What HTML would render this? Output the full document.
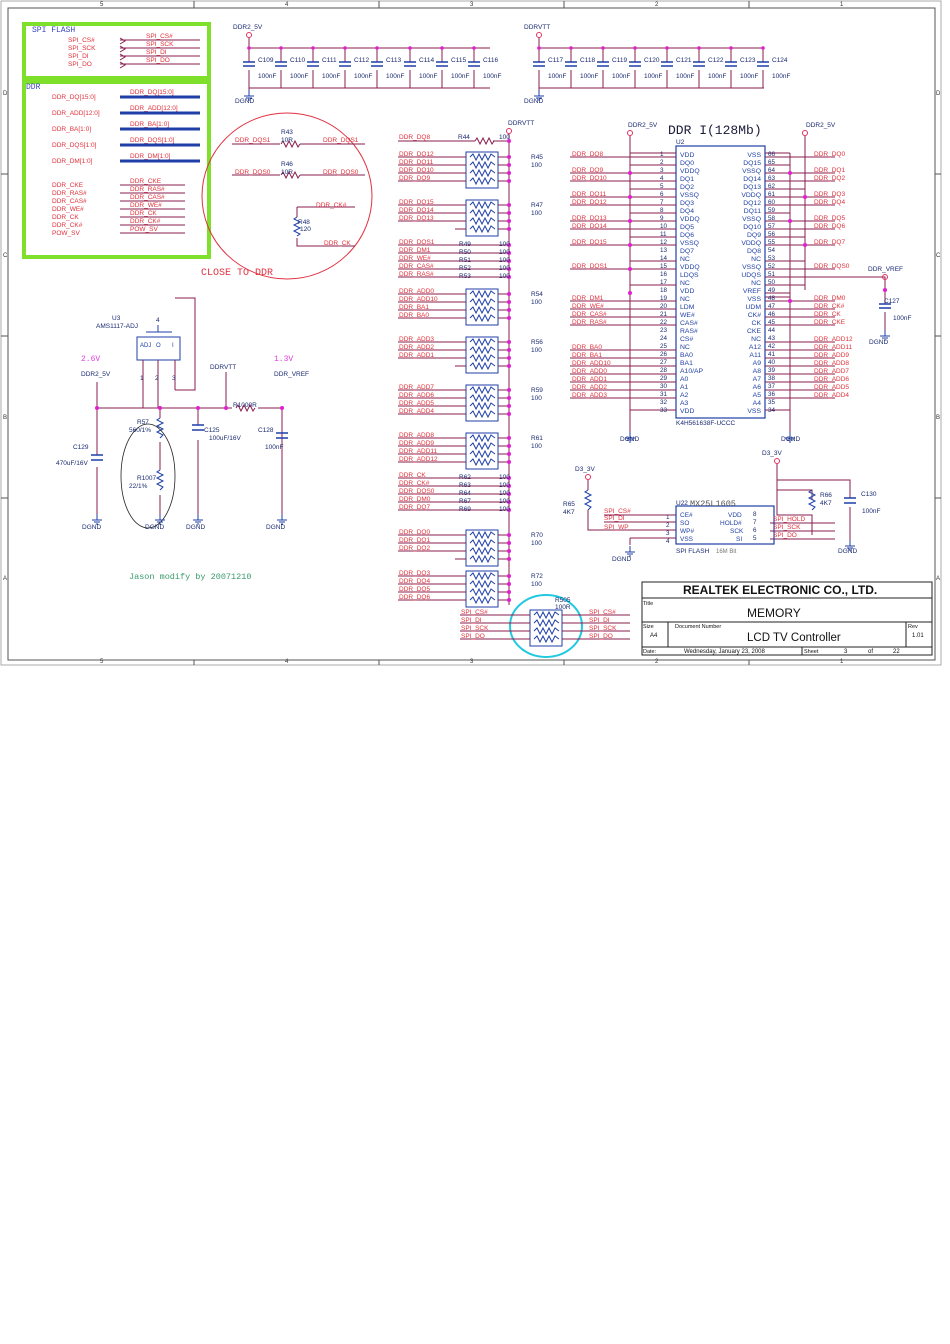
<!DOCTYPE html>
<html><head><meta charset="utf-8"><style>
html,body{margin:0;padding:0;background:#fff}
svg{display:block;font-family:"Liberation Sans",sans-serif}
.w{stroke:#8a1c4c;stroke-width:1;fill:none}
.b{stroke:#1f3fa8;stroke-width:1;fill:none}
.l{fill:#e0303a;font-size:6.5px}
.n{fill:#1a2a70;font-size:6.5px}
.m{fill:#e020d0}
.g{stroke:#7ee02a;stroke-width:4;fill:none}
.mono{font-family:"Liberation Mono",monospace}
</style></head><body>
<svg width="950" height="1344" viewBox="0 0 950 1344" xmlns="http://www.w3.org/2000/svg">
<defs>
<g id="pk"><rect x="0" y="0" width="32" height="36" class="b"/><path class="b" d="M4 5l3-3 3 6 3-6 3 6 3-6 3 6 3-6 4 3M4 13l3-3 3 6 3-6 3 6 3-6 3 6 3-6 4 3M4 21l3-3 3 6 3-6 3 6 3-6 3 6 3-6 4 3M4 29l3-3 3 6 3-6 3 6 3-6 3 6 3-6 4 3"/></g>
<g id="cap"><path class="w" d="M0 0V14M0 22V40"/><path d="M-6 14H6M-6 18H6" stroke="#1f3fa8" stroke-width="1.5"/><circle cx="0" cy="0" r="1.8" class="m"/></g>
<g id="gnd"><path d="M-5 0H5M-3 2H3M-1 4H1M0 0V-6" stroke="#1f3fa8" stroke-width="1"/></g>
<path id="zz" d="M0 0l2-3 3 6 3-6 3 6 3-6 3 6 2-3" class="w"/>
</defs>
<rect x="8" y="8" width="927" height="652" fill="none" stroke="#555" stroke-width="1"/>
<rect x="1" y="1" width="940" height="664" fill="none" stroke="#888" stroke-width="0.7"/>
<g fill="#333" font-size="6"><text x="100" y="6">5</text><text x="285" y="6">4</text><text x="470" y="6">3</text><text x="655" y="6">2</text><text x="840" y="6">1</text>
<text x="100" y="663">5</text><text x="285" y="663">4</text><text x="470" y="663">3</text><text x="655" y="663">2</text><text x="840" y="663">1</text>
<text x="3" y="95">D</text><text x="3" y="257">C</text><text x="3" y="419">B</text><text x="3" y="580">A</text>
<text x="936" y="95">D</text><text x="936" y="257">C</text><text x="936" y="419">B</text><text x="936" y="580">A</text></g>
<path d="M194 1V8M379 1V8M564 1V8M749 1V8M194 660V665M379 660V665M564 660V665M749 660V665M1 174H8M1 336H8M1 498H8M935 174H941M935 336H941M935 498H941" stroke="#555"/>

<rect x="24" y="24" width="185" height="54" class="g"/>
<rect x="24" y="82" width="185" height="175" class="g"/>
<text x="32" y="32" class="mono" font-size="8" fill="#3a4ac0">SPI FLASH</text>
<text x="26" y="89" class="mono" font-size="8" fill="#3a4ac0">DDR</text>
<g class="l"><text x="68" y="42">SPI_CS#</text><text x="68" y="50">SPI_SCK</text><text x="68" y="58">SPI_DI</text><text x="68" y="66">SPI_DO</text>
<text x="146" y="38">SPI_CS#</text><text x="146" y="46">SPI_SCK</text><text x="146" y="54">SPI_DI</text><text x="146" y="62">SPI_DO</text></g>
<path class="w" d="M120 40H200M120 48H200M120 56H200M120 64H200M120 38l5 3-5 3M120 46l5 3-5 3M120 54l5 3-5 3M120 62l5 3-5 3"/>
<g class="l"><text x="52" y="99">DDR_DQ[15:0]</text><text x="52" y="115">DDR_ADD[12:0]</text><text x="52" y="131">DDR_BA[1:0]</text><text x="52" y="147">DDR_DQS[1:0]</text><text x="52" y="163">DDR_DM[1:0]</text>
<text x="130" y="94">DDR_DQ[15:0]</text><text x="130" y="110">DDR_ADD[12:0]</text><text x="130" y="126">DDR_BA[1:0]</text><text x="130" y="142">DDR_DQS[1:0]</text><text x="130" y="158">DDR_DM[1:0]</text></g>
<path d="M120 97H200M120 113H200M120 129H200M120 145H200M120 161H200" stroke="#1f3fa8" stroke-width="3"/>
<g class="l"><text x="52" y="187">DDR_CKE</text><text x="52" y="195">DDR_RAS#</text><text x="52" y="203">DDR_CAS#</text><text x="52" y="211">DDR_WE#</text><text x="52" y="219">DDR_CK</text><text x="52" y="227">DDR_CK#</text><text x="52" y="235">POW_SV</text>
<text x="130" y="183">DDR_CKE</text><text x="130" y="191">DDR_RAS#</text><text x="130" y="199">DDR_CAS#</text><text x="130" y="207">DDR_WE#</text><text x="130" y="215">DDR_CK</text><text x="130" y="223">DDR_CK#</text><text x="130" y="231">POW_SV</text></g>
<path class="w" d="M120 185H185M120 193H185M120 201H185M120 209H185M120 217H185M120 225H185M120 233H185"/>

<text x="233" y="29" class="n">DDR2_5V</text><circle cx="249" cy="35" r="2.5" fill="none" stroke="#e03060"/>
<path class="w" d="M249 38V48H490M249 88H490V88M249 88V96"/>
<use href="#cap" x="249" y="48"/><use href="#cap" x="281" y="48"/><use href="#cap" x="313" y="48"/><use href="#cap" x="345" y="48"/><use href="#cap" x="377" y="48"/><use href="#cap" x="410" y="48"/><use href="#cap" x="442" y="48"/><use href="#cap" x="474" y="48"/>
<use href="#gnd" x="249" y="96"/><text x="235" y="103" class="n">DGND</text>
<g class="n"><text x="258" y="62">C109</text><text x="290" y="62">C110</text><text x="322" y="62">C111</text><text x="354" y="62">C112</text><text x="386" y="62">C113</text><text x="419" y="62">C114</text><text x="451" y="62">C115</text><text x="483" y="62">C116</text>
<text x="258" y="78">100nF</text><text x="290" y="78">100nF</text><text x="322" y="78">100nF</text><text x="354" y="78">100nF</text><text x="386" y="78">100nF</text><text x="419" y="78">100nF</text><text x="451" y="78">100nF</text><text x="483" y="78">100nF</text></g>
<text x="524" y="29" class="n">DDRVTT</text><circle cx="539" cy="35" r="2.5" fill="none" stroke="#e03060"/>
<path class="w" d="M539 38V48H764M539 88H764M539 88V96"/>
<use href="#cap" x="539" y="48"/><use href="#cap" x="571" y="48"/><use href="#cap" x="603" y="48"/><use href="#cap" x="635" y="48"/><use href="#cap" x="667" y="48"/><use href="#cap" x="699" y="48"/><use href="#cap" x="731" y="48"/><use href="#cap" x="763" y="48"/>
<use href="#gnd" x="539" y="96"/><text x="524" y="103" class="n">DGND</text>
<g class="n"><text x="548" y="62">C117</text><text x="580" y="62">C118</text><text x="612" y="62">C119</text><text x="644" y="62">C120</text><text x="676" y="62">C121</text><text x="708" y="62">C122</text><text x="740" y="62">C123</text><text x="772" y="62">C124</text>
<text x="548" y="78">100nF</text><text x="580" y="78">100nF</text><text x="612" y="78">100nF</text><text x="644" y="78">100nF</text><text x="676" y="78">100nF</text><text x="708" y="78">100nF</text><text x="740" y="78">100nF</text><text x="772" y="78">100nF</text></g>

<ellipse cx="287" cy="196" rx="85" ry="83" fill="none" stroke="#e03040" stroke-width="1"/>
<text x="201" y="275" class="mono" font-size="10" fill="#e03040">CLOSE TO DDR</text>
<path class="w" d="M232 144H280M300 144H365M232 175H280M300 175H365M297 207H355M297 207V217M297 238V246H355"/>
<use href="#zz" x="281" y="144"/><use href="#zz" x="281" y="175"/>
<path class="b" d="M297 217l-3 2 6 3-6 3 6 3-6 3 6 3-3 2"/>
<g class="l"><text x="235" y="142">DDR_DQS1</text><text x="323" y="142">DDR_DQS1</text><text x="235" y="174">DDR_DQS0</text><text x="323" y="174">DDR_DQS0</text><text x="316" y="207">DDR_CK#</text><text x="324" y="245">DDR_CK</text></g>
<g class="n"><text x="281" y="134">R43</text><text x="281" y="142">10R</text><text x="281" y="166">R46</text><text x="281" y="174">10R</text><text x="298" y="224">R48</text><text x="300" y="231">120</text></g>

<text x="508" y="125" class="n">DDRVTT</text><circle cx="509" cy="131" r="2.5" fill="none" stroke="#e03060"/>
<path class="w" d="M509 134V605"/>
<path class="w" d="M398 141H475M493 141H509"/><use href="#zz" x="475" y="141"/>
<text x="458" y="139" class="n">R44</text><text x="499" y="139" class="n">100</text><text x="399" y="139" class="l">DDR_DQ8</text>
<g>
<use href="#pk" x="466" y="152"/><use href="#pk" x="466" y="200"/><use href="#pk" x="466" y="289"/><use href="#pk" x="466" y="337"/><use href="#pk" x="466" y="385"/><use href="#pk" x="466" y="433"/><use href="#pk" x="466" y="530"/><use href="#pk" x="466" y="571"/>
</g>
<path class="w" d="M398 157H466M398 165H466M398 173H466M398 181H466M498 157H509M498 165H509M498 173H509M498 181H509
M398 205H466M398 213H466M398 221H466M455 229H466M498 205H509M498 213H509M498 221H509M498 229H509
M398 294H466M398 302H466M398 310H466M398 318H466M498 294H509M498 302H509M498 310H509M498 318H509
M398 342H466M398 350H466M398 358H466M455 366H466M498 342H509M498 350H509M498 358H509M498 366H509
M398 390H466M398 398H466M398 406H466M398 414H466M498 390H509M498 398H509M498 406H509M498 414H509
M398 438H466M398 446H466M398 454H466M398 462H466M498 438H509M498 446H509M498 454H509M498 462H509
M398 535H466M398 543H466M398 551H466M455 559H466M498 535H509M498 543H509M498 551H509M498 559H509
M398 576H466M398 584H466M398 592H466M398 600H466M498 576H509M498 584H509M498 592H509M498 600H509
M398 253H509M398 261H509M398 269H509M398 277H509M398 245H509
M398 478H509M398 486H509M398 494H509M398 502H509M398 510H509"/>
<g class="m">
<circle cx="509" cy="141" r="2"/><circle cx="509" cy="157" r="2"/><circle cx="509" cy="165" r="2"/><circle cx="509" cy="173" r="2"/><circle cx="509" cy="181" r="2"/><circle cx="509" cy="205" r="2"/><circle cx="509" cy="213" r="2"/><circle cx="509" cy="221" r="2"/><circle cx="509" cy="229" r="2"/>
<circle cx="509" cy="245" r="2"/><circle cx="509" cy="253" r="2"/><circle cx="509" cy="261" r="2"/><circle cx="509" cy="269" r="2"/><circle cx="509" cy="277" r="2"/>
<circle cx="509" cy="294" r="2"/><circle cx="509" cy="302" r="2"/><circle cx="509" cy="310" r="2"/><circle cx="509" cy="318" r="2"/><circle cx="509" cy="342" r="2"/><circle cx="509" cy="350" r="2"/><circle cx="509" cy="358" r="2"/><circle cx="509" cy="366" r="2"/>
<circle cx="509" cy="390" r="2"/><circle cx="509" cy="398" r="2"/><circle cx="509" cy="406" r="2"/><circle cx="509" cy="414" r="2"/><circle cx="509" cy="438" r="2"/><circle cx="509" cy="446" r="2"/><circle cx="509" cy="454" r="2"/><circle cx="509" cy="462" r="2"/>
<circle cx="509" cy="478" r="2"/><circle cx="509" cy="486" r="2"/><circle cx="509" cy="494" r="2"/><circle cx="509" cy="502" r="2"/><circle cx="509" cy="510" r="2"/>
<circle cx="509" cy="535" r="2"/><circle cx="509" cy="543" r="2"/><circle cx="509" cy="551" r="2"/><circle cx="509" cy="559" r="2"/><circle cx="509" cy="576" r="2"/><circle cx="509" cy="584" r="2"/><circle cx="509" cy="592" r="2"/><circle cx="509" cy="600" r="2"/>
</g>
<g class="l" transform="translate(0,-3)">
<text x="399" y="159">DDR_DQ12</text><text x="399" y="167">DDR_DQ11</text><text x="399" y="175">DDR_DQ10</text><text x="399" y="183">DDR_DQ9</text>
<text x="399" y="207">DDR_DQ15</text><text x="399" y="215">DDR_DQ14</text><text x="399" y="223">DDR_DQ13</text>
<text x="399" y="247">DDR_DQS1</text><text x="399" y="255">DDR_DM1</text><text x="399" y="263">DDR_WE#</text><text x="399" y="271">DDR_CAS#</text><text x="399" y="279">DDR_RAS#</text>
<text x="399" y="296">DDR_ADD0</text><text x="399" y="304">DDR_ADD10</text><text x="399" y="312">DDR_BA1</text><text x="399" y="320">DDR_BA0</text>
<text x="399" y="344">DDR_ADD3</text><text x="399" y="352">DDR_ADD2</text><text x="399" y="360">DDR_ADD1</text>
<text x="399" y="392">DDR_ADD7</text><text x="399" y="400">DDR_ADD6</text><text x="399" y="408">DDR_ADD5</text><text x="399" y="416">DDR_ADD4</text>
<text x="399" y="440">DDR_ADD8</text><text x="399" y="448">DDR_ADD9</text><text x="399" y="456">DDR_ADD11</text><text x="399" y="464">DDR_ADD12</text>
<text x="399" y="480">DDR_CK</text><text x="399" y="488">DDR_CK#</text><text x="399" y="496">DDR_DQS0</text><text x="399" y="504">DDR_DM0</text><text x="399" y="512">DDR_DQ7</text>
<text x="399" y="537">DDR_DQ0</text><text x="399" y="545">DDR_DQ1</text><text x="399" y="553">DDR_DQ2</text>
<text x="399" y="578">DDR_DQ3</text><text x="399" y="586">DDR_DQ4</text><text x="399" y="594">DDR_DQ5</text><text x="399" y="602">DDR_DQ6</text>
</g>
<g class="n">
<text x="531" y="159">R45</text><text x="531" y="167">100</text><text x="531" y="207">R47</text><text x="531" y="215">100</text>
<text x="459" y="246">R49</text><text x="459" y="254">R50</text><text x="459" y="262">R51</text><text x="459" y="270">R52</text><text x="459" y="278">R53</text>
<text x="499" y="246">100</text><text x="499" y="254">100</text><text x="499" y="262">100</text><text x="499" y="270">100</text><text x="499" y="278">100</text>
<text x="531" y="296">R54</text><text x="531" y="304">100</text><text x="531" y="344">R56</text><text x="531" y="352">100</text><text x="531" y="392">R59</text><text x="531" y="400">100</text><text x="531" y="440">R61</text><text x="531" y="448">100</text>
<text x="459" y="479">R62</text><text x="459" y="487">R63</text><text x="459" y="495">R64</text><text x="459" y="503">R67</text><text x="459" y="511">R69</text>
<text x="499" y="479">100</text><text x="499" y="487">100</text><text x="499" y="495">100</text><text x="499" y="503">100</text><text x="499" y="511">100</text>
<text x="531" y="537">R70</text><text x="531" y="545">100</text><text x="531" y="578">R72</text><text x="531" y="586">100</text>
</g>
<ellipse cx="546" cy="626" rx="36" ry="31" fill="none" stroke="#20c8e0" stroke-width="2"/>
<use href="#pk" x="530" y="610"/>
<path class="w" d="M460 615H530M460 623H530M460 631H530M460 639H530M562 615H630M562 623H630M562 631H630M562 639H630"/>
<g class="l" transform="translate(0,-3)"><text x="461" y="617">SPI_CS#</text><text x="461" y="625">SPI_DI</text><text x="461" y="633">SPI_SCK</text><text x="461" y="641">SPI_DO</text>
<text x="589" y="617">SPI_CS#</text><text x="589" y="625">SPI_DI</text><text x="589" y="633">SPI_SCK</text><text x="589" y="641">SPI_DO</text></g>
<text x="555" y="602" class="n">R505</text><text x="555" y="609" class="n">100R</text>

<text x="668" y="134" class="mono" font-size="13" fill="#1a1a3a">DDR I(128Mb)</text>
<text x="628" y="127" class="n">DDR2_5V</text><text x="806" y="127" class="n">DDR2_5V</text>
<circle cx="630" cy="133" r="2.5" fill="none" stroke="#e03060"/><circle cx="805" cy="133" r="2.5" fill="none" stroke="#e03060"/>
<text x="676" y="144" class="n">U2</text>
<rect x="676" y="146" width="89" height="272" fill="none" stroke="#1f3fa8" stroke-width="1.2"/>
<path class="w" d="M630 136V432M805 136V290M570 157H676M570 173H676M570 181H676M570 197H676M570 205H676M570 221H676M570 229H676M570 245H676M570 269H676M570 301H676M570 309H676M570 317H676M570 325H676M570 350H676M570 358H676M570 366H676M570 374H676M570 382H676M570 390H676M570 398H676
M630 153H676M630 165H676M630 189H676M630 213H676M630 237H676M630 261H676M630 285H676M630 410H676
M765 157H835M765 173H835M765 181H835M765 197H835M765 205H835M765 221H835M765 229H835M765 245H835M765 269H835M765 301H835M765 309H835M765 317H835M765 325H835M765 342H835M765 350H835M765 358H835M765 366H835M765 374H835M765 382H835M765 390H835M765 398H835
M765 153H790M790 153V436M765 165H790M765 213H790M765 189H805M765 237H805M765 285H805M765 293H790M765 410H790M765 261H805M765 189H805
M765 277H885V300M765 297H790"/>
<use href="#gnd" x="630" y="438"/><use href="#gnd" x="790" y="438"/>
<text x="620" y="441" class="n">DGND</text><text x="781" y="441" class="n">DGND</text>
<g font-size="6.3" fill="#1a2a70">
<text x="660" y="156">1</text><text x="660" y="164">2</text><text x="660" y="172">3</text><text x="660" y="180">4</text><text x="660" y="188">5</text><text x="660" y="196">6</text><text x="660" y="204">7</text><text x="660" y="212">8</text><text x="660" y="220">9</text><text x="660" y="228">10</text><text x="660" y="236">11</text><text x="660" y="244">12</text><text x="660" y="252">13</text><text x="660" y="260">14</text><text x="660" y="268">15</text><text x="660" y="276">16</text><text x="660" y="284">17</text><text x="660" y="292">18</text><text x="660" y="300">19</text><text x="660" y="308">20</text><text x="660" y="316">21</text><text x="660" y="324">22</text><text x="660" y="332">23</text><text x="660" y="340">24</text><text x="660" y="348">25</text><text x="660" y="356">26</text><text x="660" y="364">27</text><text x="660" y="372">28</text><text x="660" y="380">29</text><text x="660" y="388">30</text><text x="660" y="396">31</text><text x="660" y="404">32</text><text x="660" y="412">33</text>
<text x="768" y="156">66</text><text x="768" y="164">65</text><text x="768" y="172">64</text><text x="768" y="180">63</text><text x="768" y="188">62</text><text x="768" y="196">61</text><text x="768" y="204">60</text><text x="768" y="212">59</text><text x="768" y="220">58</text><text x="768" y="228">57</text><text x="768" y="236">56</text><text x="768" y="244">55</text><text x="768" y="252">54</text><text x="768" y="260">53</text><text x="768" y="268">52</text><text x="768" y="276">51</text><text x="768" y="284">50</text><text x="768" y="292">49</text><text x="768" y="300">48</text><text x="768" y="308">47</text><text x="768" y="316">46</text><text x="768" y="324">45</text><text x="768" y="332">44</text><text x="768" y="340">43</text><text x="768" y="348">42</text><text x="768" y="356">41</text><text x="768" y="364">40</text><text x="768" y="372">39</text><text x="768" y="380">38</text><text x="768" y="388">37</text><text x="768" y="396">36</text><text x="768" y="404">35</text><text x="768" y="412">34</text>
</g>
<g font-size="6.8" fill="#1f3fa8">
<text x="680" y="157">VDD</text><text x="680" y="165">DQ0</text><text x="680" y="173">VDDQ</text><text x="680" y="181">DQ1</text><text x="680" y="189">DQ2</text><text x="680" y="197">VSSQ</text><text x="680" y="205">DQ3</text><text x="680" y="213">DQ4</text><text x="680" y="221">VDDQ</text><text x="680" y="229">DQ5</text><text x="680" y="237">DQ6</text><text x="680" y="245">VSSQ</text><text x="680" y="253">DQ7</text><text x="680" y="261">NC</text><text x="680" y="269">VDDQ</text><text x="680" y="277">LDQS</text><text x="680" y="285">NC</text><text x="680" y="293">VDD</text><text x="680" y="301">NC</text><text x="680" y="309">LDM</text><text x="680" y="317">WE#</text><text x="680" y="325">CAS#</text><text x="680" y="333">RAS#</text><text x="680" y="341">CS#</text><text x="680" y="349">NC</text><text x="680" y="357">BA0</text><text x="680" y="365">BA1</text><text x="680" y="373">A10/AP</text><text x="680" y="381">A0</text><text x="680" y="389">A1</text><text x="680" y="397">A2</text><text x="680" y="405">A3</text><text x="680" y="413">VDD</text>
</g>
<g font-size="6.8" fill="#1f3fa8" text-anchor="end">
<text x="761" y="157">VSS</text><text x="761" y="165">DQ15</text><text x="761" y="173">VSSQ</text><text x="761" y="181">DQ14</text><text x="761" y="189">DQ13</text><text x="761" y="197">VDDQ</text><text x="761" y="205">DQ12</text><text x="761" y="213">DQ11</text><text x="761" y="221">VSSQ</text><text x="761" y="229">DQ10</text><text x="761" y="237">DQ9</text><text x="761" y="245">VDDQ</text><text x="761" y="253">DQ8</text><text x="761" y="261">NC</text><text x="761" y="269">VSSQ</text><text x="761" y="277">UDQS</text><text x="761" y="285">NC</text><text x="761" y="293">VREF</text><text x="761" y="301">VSS</text><text x="761" y="309">UDM</text><text x="761" y="317">CK#</text><text x="761" y="325">CK</text><text x="761" y="333">CKE</text><text x="761" y="341">NC</text><text x="761" y="349">A12</text><text x="761" y="357">A11</text><text x="761" y="365">A9</text><text x="761" y="373">A8</text><text x="761" y="381">A7</text><text x="761" y="389">A6</text><text x="761" y="397">A5</text><text x="761" y="405">A4</text><text x="761" y="413">VSS</text>
</g>
<text x="676" y="425" class="n">K4H561638F-UCCC</text>
<g class="l" transform="translate(0,-3)">
<text x="572" y="159">DDR_DQ8</text><text x="572" y="175">DDR_DQ9</text><text x="572" y="183">DDR_DQ10</text><text x="572" y="199">DDR_DQ11</text><text x="572" y="207">DDR_DQ12</text><text x="572" y="223">DDR_DQ13</text><text x="572" y="231">DDR_DQ14</text><text x="572" y="247">DDR_DQ15</text><text x="572" y="271">DDR_DQS1</text><text x="572" y="303">DDR_DM1</text><text x="572" y="311">DDR_WE#</text><text x="572" y="319">DDR_CAS#</text><text x="572" y="327">DDR_RAS#</text><text x="572" y="352">DDR_BA0</text><text x="572" y="360">DDR_BA1</text><text x="572" y="368">DDR_ADD10</text><text x="572" y="376">DDR_ADD0</text><text x="572" y="384">DDR_ADD1</text><text x="572" y="392">DDR_ADD2</text><text x="572" y="400">DDR_ADD3</text>
<text x="814" y="159">DDR_DQ0</text><text x="814" y="175">DDR_DQ1</text><text x="814" y="183">DDR_DQ2</text><text x="814" y="199">DDR_DQ3</text><text x="814" y="207">DDR_DQ4</text><text x="814" y="223">DDR_DQ5</text><text x="814" y="231">DDR_DQ6</text><text x="814" y="247">DDR_DQ7</text><text x="814" y="271">DDR_DQS0</text><text x="814" y="303">DDR_DM0</text><text x="814" y="311">DDR_CK#</text><text x="814" y="319">DDR_CK</text><text x="814" y="327">DDR_CKE</text><text x="814" y="344">DDR_ADD12</text><text x="814" y="352">DDR_ADD11</text><text x="814" y="360">DDR_ADD9</text><text x="814" y="368">DDR_ADD8</text><text x="814" y="376">DDR_ADD7</text><text x="814" y="384">DDR_ADD6</text><text x="814" y="392">DDR_ADD5</text><text x="814" y="400">DDR_ADD4</text>
</g>
<text x="868" y="271" class="n">DDR_VREF</text><circle cx="885" cy="277" r="2.5" fill="none" stroke="#e03060"/>
<use href="#cap" x="885" y="290"/><use href="#gnd" x="885" y="336"/>
<text x="884" y="303" class="n">C127</text><text x="893" y="320" class="n">100nF</text><text x="869" y="344" class="n">DGND</text>
<g class="m"><circle cx="790" cy="173" r="2"/><circle cx="805" cy="197" r="2"/><circle cx="790" cy="221" r="2"/><circle cx="805" cy="245" r="2"/><circle cx="630" cy="173" r="2"/><circle cx="630" cy="197" r="2"/><circle cx="630" cy="221" r="2"/><circle cx="630" cy="245" r="2"/><circle cx="630" cy="269" r="2"/><circle cx="630" cy="293" r="2"/><circle cx="790" cy="301" r="2"/><circle cx="885" cy="290" r="2"/></g>

<text x="575" y="471" class="n">D3_3V</text><circle cx="588" cy="477" r="2.5" fill="none" stroke="#e03060"/>
<text x="762" y="455" class="n">D3_3V</text><circle cx="777" cy="461" r="2.5" fill="none" stroke="#e03060"/>
<path class="w" d="M588 480V490M588 510V530H676M604 515H676M604 522H676M630 538H676M630 538V545M777 464V515H812V535M777 480H850V498M850 507V545M812 500V490H777M770 523H835M770 531H835M770 539H835"/>
<path class="b" d="M588 490l-3 2 6 3-6 3 6 3-6 3 6 3-3 3M812 490l-3 2 6 3-6 3 6 3-6 3 6 3-3 3"/>
<path d="M844 498H856M844 503H856" stroke="#1f3fa8" stroke-width="1.5"/>
<use href="#gnd" x="630" y="552"/><use href="#gnd" x="850" y="546"/>
<text x="612" y="561" class="n">DGND</text><text x="838" y="553" class="n">DGND</text>
<rect x="676" y="506" width="98" height="38" fill="none" stroke="#1f3fa8" stroke-width="1.2"/>
<text x="676" y="505" class="n">U22</text><text x="690" y="506" class="mono" font-size="8.5" fill="#555">MX25L1605</text>
<g font-size="6.5" fill="#1f3fa8"><text x="680" y="517">CE#</text><text x="680" y="525">SO</text><text x="680" y="533">WP#</text><text x="680" y="541">VSS</text>
<text x="728" y="517">VDD</text><text x="720" y="525">HOLD#</text><text x="730" y="533">SCK</text><text x="736" y="541">SI</text></g>
<g font-size="6.3" fill="#1a2a70"><text x="666" y="519">1</text><text x="666" y="527">2</text><text x="666" y="535">3</text><text x="666" y="543">4</text><text x="753" y="516">8</text><text x="753" y="524">7</text><text x="753" y="532">6</text><text x="753" y="540">5</text></g>
<text x="676" y="553" class="n">SPI FLASH</text><text x="716" y="553" font-size="6" fill="#777">16M Bit</text>
<g class="l"><text x="604" y="513">SPI_CS#</text><text x="604" y="520">SPI_DI</text><text x="604" y="529">SPI_WP</text><text x="773" y="521">SPI_HOLD</text><text x="773" y="529">SPI_SCK</text><text x="773" y="537">SPI_DO</text></g>
<g class="n"><text x="563" y="506">R65</text><text x="563" y="514">4K7</text><text x="820" y="497">R66</text><text x="820" y="505">4K7</text><text x="861" y="496">C130</text><text x="862" y="513">100nF</text></g>

<text x="112" y="320" class="n">U3</text><text x="96" y="328" class="n">AMS1117-ADJ</text>
<path class="b" d="M158 325V332M146 332H172M137 337H180V360H137Z"/>
<text x="156" y="322" class="n">4</text>
<g font-size="6" fill="#1f3fa8"><text x="140" y="347">ADJ</text><text x="156" y="347">O</text><text x="172" y="347">I</text></g>
<path class="w" d="M143 360V408M158 360V408M175 360V390"/>
<g class="n"><text x="140" y="380">1</text><text x="155" y="380">2</text><text x="172" y="380">3</text></g>
<path class="w" d="M175 298H195V390H175M97 382V455M97 467V518M97 408H178M160 408V418M160 442V470M160 495V518M178 408H232M258 408H282V518M198 408V425M198 440V518M226 372V408"/>
<path class="b" d="M160 418l-3 2 6 3-6 3 6 3-6 3 6 3-3 3M160 470l-3 2 6 3-6 3 6 3-6 3 6 3-3 3"/>
<use href="#zz" x="236" y="408"/>
<path d="M91 455H103M91 460H103M192 425H204M192 430H204M276 433H288M276 438H288" stroke="#1f3fa8" stroke-width="1.5"/>
<ellipse cx="148" cy="476" rx="27" ry="52" fill="none" stroke="#222" stroke-width="0.8"/>
<g class="m"><circle cx="97" cy="408" r="2"/><circle cx="160" cy="408" r="2"/><circle cx="198" cy="408" r="2"/><circle cx="226" cy="408" r="2"/><circle cx="282" cy="408" r="2"/></g>
<text x="81" y="361" font-size="8" fill="#e040e0" class="mono">2.6V</text><text x="274" y="361" font-size="8" fill="#e040e0" class="mono">1.3V</text>
<g class="n"><text x="81" y="376">DDR2_5V</text><text x="210" y="369">DDRVTT</text><text x="274" y="376">DDR_VREF</text>
<text x="137" y="424">R57</text><text x="129" y="432">560/1%</text><text x="137" y="480">R1007</text><text x="129" y="488">22/1%</text>
<text x="233" y="407">R1000R</text><text x="204" y="432">C125</text><text x="209" y="440">100uF/16V</text>
<text x="258" y="432">C128</text><text x="265" y="449">100nF</text><text x="73" y="449">C129</text><text x="56" y="465">470uF/16V</text>
<text x="82" y="529">DGND</text><text x="145" y="529">DGND</text><text x="186" y="529">DGND</text><text x="266" y="529">DGND</text></g>
<use href="#gnd" x="97" y="520"/><use href="#gnd" x="160" y="520"/><use href="#gnd" x="198" y="520"/><use href="#gnd" x="282" y="520"/>
<text x="129" y="579" class="mono" font-size="8.5" fill="#3a9a6a">Jason modify by 20071210</text>

<g stroke="#222" fill="none" stroke-width="1"><rect x="642" y="582" width="290" height="73"/><path d="M642 598H932M642 622H932M642 647H932M668 622V647M906 622V647M802 647V655"/></g>
<text x="683" y="594" font-size="12" font-weight="bold" fill="#111">REALTEK ELECTRONIC CO., LTD.</text>
<text x="643" y="605" font-size="5.5" fill="#111">Title</text>
<text x="747" y="617" font-size="12" fill="#111">MEMORY</text>
<text x="643" y="628" font-size="5.5" fill="#111">Size</text><text x="650" y="637" font-size="6" fill="#111">A4</text>
<text x="675" y="628" font-size="5.5" fill="#111">Document Number</text>
<text x="747" y="641" font-size="11.5" fill="#111">LCD TV Controller</text>
<text x="908" y="628" font-size="5.5" fill="#111">Rev</text><text x="912" y="637" font-size="6" fill="#111">1.01</text>
<text x="643" y="653" font-size="5.5" fill="#111">Date:</text><text x="684" y="653" font-size="6" fill="#111">Wednesday, January 23, 2008</text>
<text x="804" y="653" font-size="5.5" fill="#111">Sheet</text><text x="844" y="653" font-size="6" fill="#111">3</text><text x="868" y="653" font-size="6" fill="#111">of</text><text x="893" y="653" font-size="6" fill="#111">22</text>
</svg>
</body></html>
